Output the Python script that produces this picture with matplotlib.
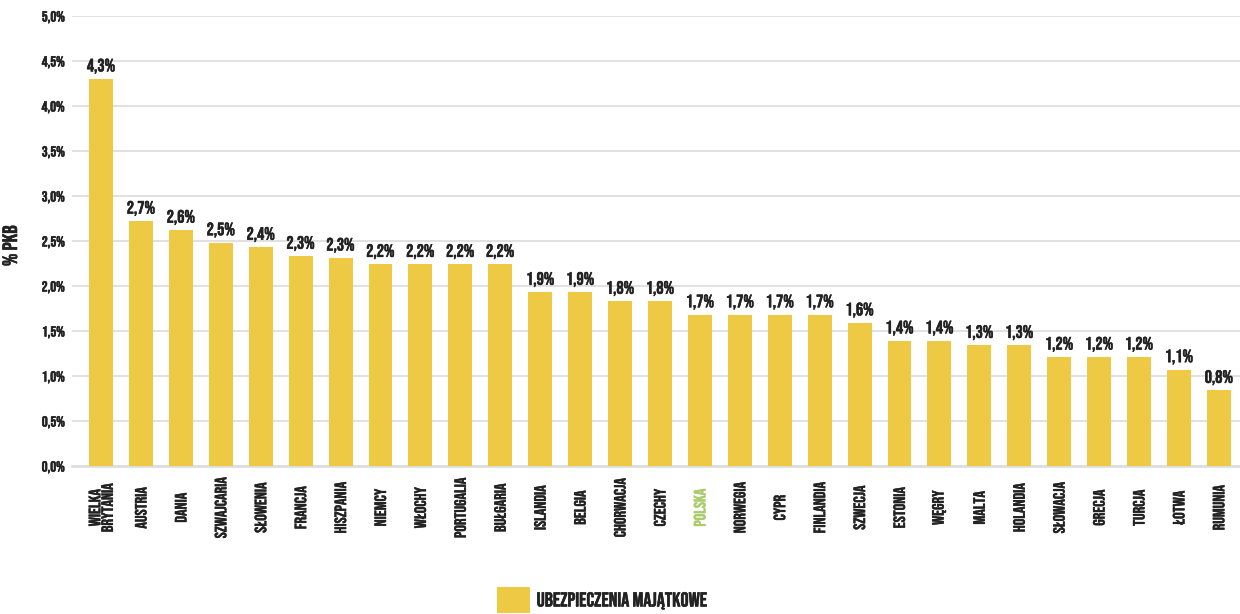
import numpy as np
import matplotlib.pyplot as plt
import matplotlib.patheffects as pe

# Property insurance premiums as % of GDP, by country
countries = ['WIELKA\nBRYTANIA', 'AUSTRIA', 'DANIA', 'SZWAJCARIA', 'SŁOWENIA', 'FRANCJA',
             'HISZPANIA', 'NIEMCY', 'WŁOCHY', 'PORTUGALIA', 'BUŁGARIA', 'ISLANDIA', 'BELGIA',
             'CHORWACJA', 'CZECHY', 'POLSKA', 'NORWEGIA', 'CYPR', 'FINLANDIA', 'SZWECJA',
             'ESTONIA', 'WĘGRY', 'MALTA', 'HOLANDIA', 'SŁOWACJA', 'GRECJA', 'TURCJA',
             'ŁOTWA', 'RUMUNIA']
values = [4.30, 2.72, 2.62, 2.48, 2.43, 2.33, 2.31, 2.24, 2.24, 2.24, 2.24, 1.93, 1.93,
          1.83, 1.83, 1.68, 1.68, 1.68, 1.68, 1.59, 1.39, 1.39, 1.34, 1.34, 1.21, 1.21,
          1.21, 1.07, 0.84]
y_ticks = [0.0, 0.5, 1.0, 1.5, 2.0, 2.5, 3.0, 3.5, 4.0, 4.5, 5.0]
highlight = 'POLSKA'
series_name = 'UBEZPIECZENIA MAJĄTKOWE'

plt.rcParams['font.family'] = ['Bebas Neue', 'Oswald', 'Barlow Condensed', 'DejaVu Sans']

BAR = '#eeca44'
TXT = '#222222'
GRID = '#dedede'
GREEN = '#aacb6c'


def pct(v):
    return f'{v:.1f}%'.replace('.', ',')


def heavy(color, lw=0.4):
    # thin outline in the text colour to thicken the glyphs a little
    return [pe.withStroke(linewidth=lw, foreground=color)]


fig = plt.figure(figsize=(12.4, 6.14), dpi=100)
ax = fig.add_axes([0.058, 0.241, 0.942, 0.733])

x = np.arange(len(countries))
bars = ax.bar(x, values, width=0.6, color=BAR, zorder=3, label=series_name)

for xi, v in zip(x, values):
    ax.annotate(pct(v), (xi, v), xytext=(0, 4), textcoords='offset points',
                ha='center', va='bottom', fontsize=12.9, color=TXT,
                path_effects=heavy(TXT))

ax.set_xlim(-0.73, len(countries) - 0.47)
ax.set_ylim(0, 5.0)
ax.set_yticks(y_ticks)
ax.set_yticklabels([pct(t) for t in y_ticks], fontsize=10.5, color=TXT)
ax.set_xticks(x)
ax.set_xticklabels(countries, rotation=90, ha='center', va='center', fontsize=11.8,
                   color=TXT, linespacing=1.15)
for lbl in ax.get_yticklabels():
    lbl.set_path_effects(heavy(TXT))
for lbl in ax.get_xticklabels():
    c = GREEN if lbl.get_text() == highlight else TXT
    lbl.set_color(c)
    lbl.set_path_effects(heavy(c, 0.3))
ax.tick_params(axis='x', length=0, pad=30)
ax.tick_params(axis='y', length=0, pad=5)

ax.grid(axis='y', color=GRID, linewidth=1.3, zorder=0)
for s in ['top', 'right', 'left']:
    ax.spines[s].set_visible(False)
ax.spines['bottom'].set_color(GRID)
ax.spines['bottom'].set_linewidth(2)

ax.set_ylabel('% PKB', fontsize=15, color=TXT, path_effects=heavy(TXT))
ax.yaxis.set_label_coords(-0.047, 0.49)

leg = fig.legend(handles=[bars], labels=[series_name], loc='center',
                 bbox_to_anchor=(0.486, 0.023), frameon=False, borderpad=0,
                 handlelength=1.6, handleheight=1.6, handletextpad=0.35,
                 prop={'size': 14.5})
for t in leg.get_texts():
    t.set_color(TXT)
    t.set_path_effects(heavy(TXT))

fig.savefig('out.png', dpi=100)
